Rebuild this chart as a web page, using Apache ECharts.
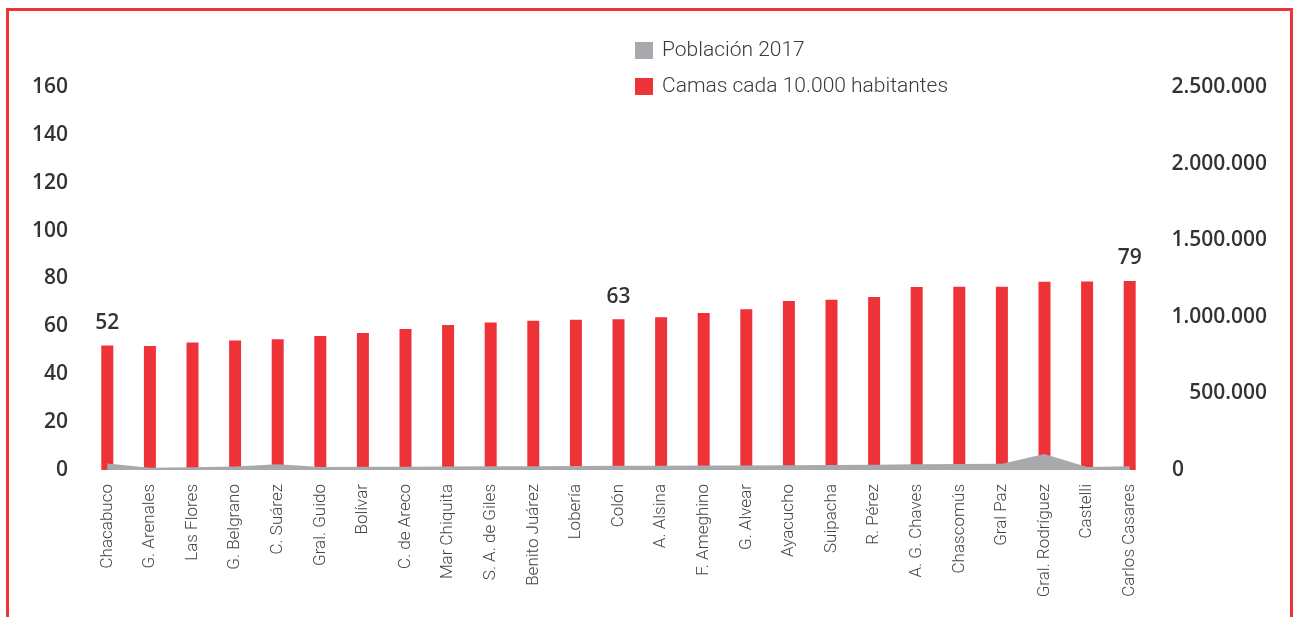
<!DOCTYPE html>
<html>
<head>
<meta charset="utf-8">
<script src="https://cdn.jsdelivr.net/npm/echarts@6/dist/echarts.min.js"></script>
<style>
  html, body { margin: 0; padding: 0; background: #ffffff; }
  #chart { width: 1295px; height: 617px; }
</style>
</head>
<body>
<div id="chart"></div>
<script>
// Partidos, ordered by beds per 10,000 inhabitants
const partidos = [
  'Chacabuco', 'G. Arenales', 'Las Flores', 'G. Belgrano', 'C. Suárez',
  'Gral. Guido', 'Bolívar', 'C. de Areco', 'Mar Chiquita', 'S. A. de Giles',
  'Benito Juárez', 'Lobería', 'Colón', 'A. Alsina', 'F. Ameghino',
  'G. Alvear', 'Ayacucho', 'Suipacha', 'R. Pérez', 'A. G. Chaves',
  'Chascomús', 'Gral Paz', 'Gral. Rodríguez', 'Castelli', 'Carlos Casares'
];

// Camas cada 10.000 habitantes
const camas = [
  52, 51.8, 53.3, 54.1, 54.6,
  56.0, 57.2, 58.9, 60.6, 61.6,
  62.3, 62.8, 63, 63.8, 65.6,
  67.2, 70.6, 71.1, 72.3, 76.5,
  76.6, 76.6, 78.6, 78.7, 79
];

// Población 2017
const poblacion = [
  42000, 15000, 18000, 23000, 38000,
  20000, 21000, 22000, 23000, 24000,
  25000, 26000, 27000, 28000, 29000,
  30000, 31000, 32000, 34000, 38000,
  39000, 40000, 105000, 20000, 25000
];

// Left and right axis ticks
const camasTicks = { min: 0, max: 160, interval: 20 };
const poblacionTicks = { min: 0, max: 2500000, interval: 500000 };

// Bars whose value is printed above them
const etiquetados = ['Chacabuco', 'Colón', 'Carlos Casares'];

const RED = '#ee3338';
const GREY = '#a8a9ad';
const TEXT = '#333333';

function miles(v) {
  return String(v).replace(/\B(?=(\d{3})+(?!\d))/g, '.');
}

const chart = echarts.init(document.getElementById('chart'), null, { renderer: 'canvas' });

chart.setOption({
  animation: false,
  backgroundColor: '#ffffff',
  graphic: [{
    type: 'rect',
    shape: { x: 7.5, y: 9.5, width: 1284, height: 700 },
    style: { fill: 'none', stroke: RED, lineWidth: 3 },
    silent: true,
    z: 100
  }],
  legend: {
    orient: 'vertical',
    left: 635,
    top: 40,
    padding: 0,
    itemWidth: 18,
    itemHeight: 17,
    itemGap: 15,
    icon: 'rect',
    textStyle: { fontFamily: 'Roboto', fontWeight: 300, fontSize: 21, color: '#3a3a3a', padding: [0, 0, 0, 4] },
    data: ['Población 2017', 'Camas cada 10.000 habitantes']
  },
  grid: { left: 86, right: 144, top: 87, bottom: 147, containLabel: false },
  xAxis: {
    type: 'category',
    data: partidos,
    axisLine: { show: false },
    axisTick: { show: false },
    axisLabel: {
      rotate: 90,
      interval: 0,
      margin: 14,
      fontFamily: 'Roboto',
      fontWeight: 300,
      fontSize: 17,
      color: '#444444'
    }
  },
  yAxis: [{
    type: 'value',
    min: camasTicks.min,
    max: camasTicks.max,
    interval: camasTicks.interval,
    splitLine: { show: false },
    axisLine: { show: false },
    axisTick: { show: false },
    axisLabel: {
      margin: 18,
      fontFamily: 'Open Sans',
      fontWeight: 600,
      fontSize: 21,
      color: TEXT
    }
  }, {
    type: 'value',
    position: 'right',
    min: poblacionTicks.min,
    max: poblacionTicks.max,
    interval: poblacionTicks.interval,
    splitLine: { show: false },
    axisLine: { show: false },
    axisTick: { show: false },
    axisLabel: {
      margin: 116,
      align: 'right',
      fontFamily: 'Open Sans',
      fontWeight: 600,
      fontSize: 21,
      color: TEXT,
      formatter: function (v) { return v === 0 ? '{z|0}' : miles(v); },
      rich: {
        z: { width: 95, align: 'left', fontFamily: 'Open Sans', fontWeight: 600, fontSize: 21, color: TEXT }
      }
    }
  }],
  series: [{
    name: 'Población 2017',
    type: 'line',
    yAxisIndex: 1,
    data: poblacion,
    symbol: 'none',
    lineStyle: { width: 0 },
    itemStyle: { color: GREY },
    areaStyle: { color: GREY, opacity: 1 }
  }, {
    name: 'Camas cada 10.000 habitantes',
    type: 'bar',
    yAxisIndex: 0,
    barWidth: 12,
    itemStyle: { color: RED },
    data: camas.map(function (v, i) {
      const show = etiquetados.indexOf(partidos[i]) !== -1;
      return {
        value: v,
        label: {
          show: show,
          position: 'top',
          distance: 12,
          fontFamily: 'Open Sans',
          fontWeight: 600,
          fontSize: 21,
          color: TEXT,
          formatter: function (p) { return String(Math.round(p.value)); }
        }
      };
    })
  }]
});
</script>
</body>
</html>
